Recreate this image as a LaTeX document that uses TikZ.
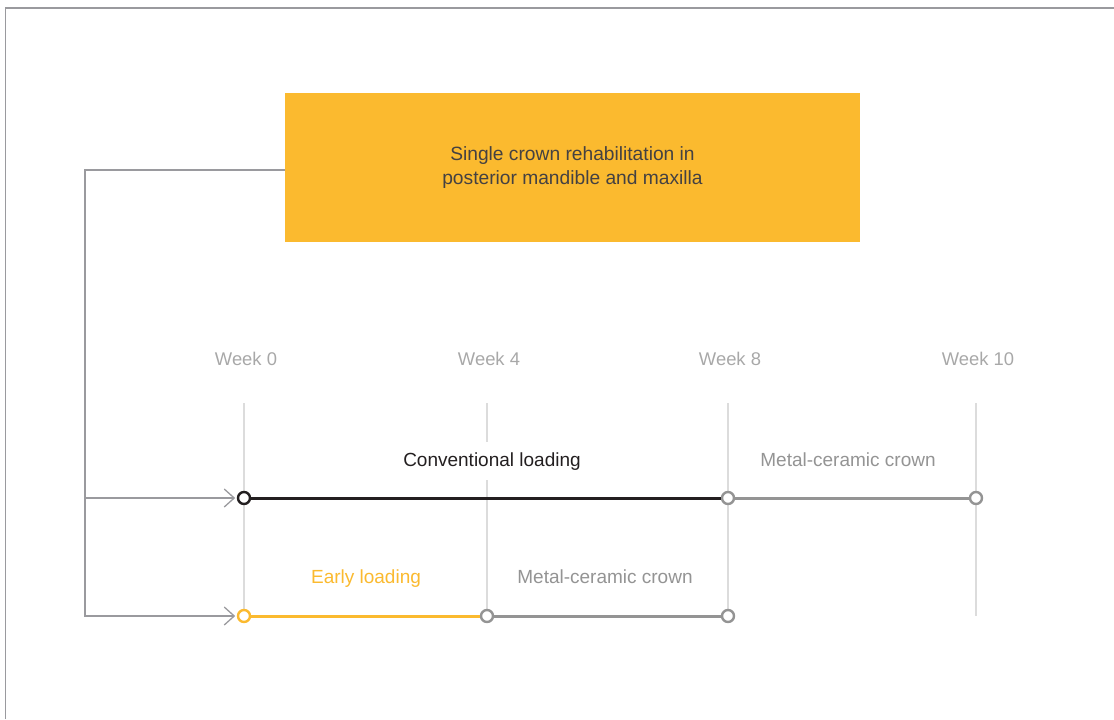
\documentclass[tikz,border=0pt]{standalone}
\usepackage{fontspec}
\setmainfont{Liberation Sans}
\usetikzlibrary{arrows.meta}
\definecolor{amber}{HTML}{FBBA2F}
\definecolor{ink}{HTML}{231F20}
\definecolor{midgrey}{HTML}{949494}
\definecolor{weekgrey}{HTML}{A8A8A8}
\definecolor{lightgrey}{HTML}{DCDCDC}
\definecolor{framegrey}{HTML}{9A9A9E}

\begin{document}
\begin{tikzpicture}[x=0.5pt,y=-0.5pt]
\tikzstyle{phase} = [fill=white,inner sep=4pt,text height=1.6ex,text depth=0.5ex,font=\fontsize{9.5}{12}\selectfont];
\tikzstyle{week} = [text=weekgrey,font=\fontsize{9.2}{12}\selectfont];
\tikzstyle{grid} = [draw=lightgrey,line width=0.65pt];
\tikzstyle{dot} = [circle,draw,fill=white,line width=1.2pt,minimum size=6pt,inner sep=0pt];
\tikzstyle{bar} = [line width=1.5pt];
\tikzstyle{link} = [draw=framegrey,line width=0.65pt];
\tikzstyle{feed} = [link,-{Straight Barb[length=5pt,width=9pt]},shorten >=0.8pt];
\useasboundingbox (0,0) rectangle (1114,719);
% frame
\draw [framegrey,line width=0.7pt] (5.5,719) -- (5.5,8) -- (1114,8);

\node [fill=amber,minimum width=287.5pt,minimum height=74.5pt,text=ink!85,align=center,font=\fontsize{9.6}{12}\selectfont] (box) at (572.5,167.5) {Single crown rehabilitation in\\posterior mandible and maxilla};

% weeks
\foreach \x/\w in {244/0,487/4,728/8,976/10} {
  \node [week] (w\w) at (\x+2,359) {Week \w};
  \draw [grid] (\x,403) -- (\x,616);
}

\node [phase,text=ink] (conv) at (492,461) {Conventional loading};
\node [phase,text=midgrey] (crown1) at (848,461) {Metal-ceramic crown};
\node [phase,text=amber] (early) at (366,578) {Early loading};
\node [phase,text=midgrey] (crown2) at (605,578) {Metal-ceramic crown};

\node [dot,draw=ink] (c0) at (244,498) {};
\node [dot,draw=midgrey] (c8) at (728,498) {};
\node [dot,draw=midgrey] (c10) at (976,498) {};
\node [dot,draw=amber] (e0) at (244,616) {};
\node [dot,draw=midgrey] (e4) at (487,616) {};
\node [dot,draw=midgrey] (e8) at (728,616) {};

\draw [bar,ink] (c0) -- (c8);
\draw [bar,midgrey] (c8) -- (c10);
\draw [bar,amber] (e0) -- (e4);
\draw [bar,midgrey] (e4) -- (e8);

% branches
\coordinate (trunk) at (85,170);
\draw [feed] (box.west |- trunk) -- (trunk) |- (e0);
\draw [feed] (trunk |- c0) -- (c0);
\end{tikzpicture}
\end{document}
